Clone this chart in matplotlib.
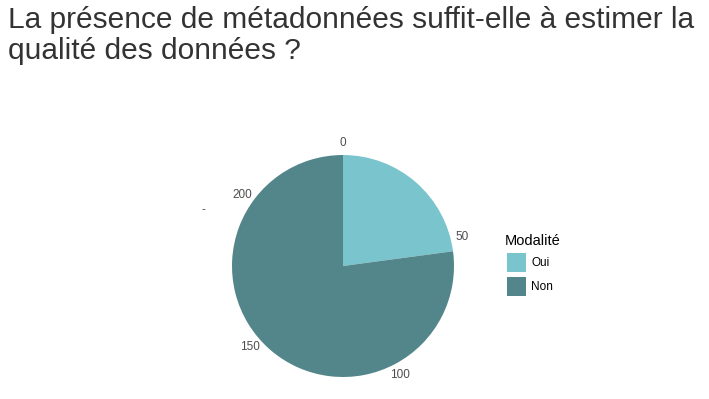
import numpy as np
import matplotlib
matplotlib.use("Agg")
import matplotlib.pyplot as plt
from matplotlib.patches import Rectangle

plt.rcParams['font.family'] = ['Liberation Sans', 'DejaVu Sans']

categories = ["Oui", "Non"]
values = [54, 182]
colors = ["#7AC5CD", "#53868B"]
tick_values = [0, 50, 100, 150, 200]
title_lines = ["La présence de métadonnées suffit-elle à estimer la",
               "qualité des données ?"]

W, H = 709, 399
fig = plt.figure(figsize=(W / 100, H / 100), dpi=100)
ax = fig.add_axes([0, 0, 1, 1])

cx, cy, r = 343, H - 266, 111
ax.pie(values, colors=colors, startangle=90, counterclock=False,
       center=(cx, cy), radius=r, frame=True,
       wedgeprops=dict(linewidth=0))
ax.set_xlim(0, W)
ax.set_ylim(0, H)
ax.set_aspect("auto")
ax.axis("off")

total = sum(values)
rl = 123
for t in tick_values:
    ang = np.deg2rad(90 - t / total * 360)
    ax.text(cx + rl * np.cos(ang), cy + rl * np.sin(ang), str(t),
            ha="center", va="center", fontsize=8.5, color="#4d4d4d")

ax.text(203, H - 210, "-", ha="center", va="center", fontsize=8.5, color="#4d4d4d")

# title, baselines at y=28 and y=59 px from top
for i, line in enumerate(title_lines):
    ax.text(8, H - (28 + 31 * i), line, ha="left", va="baseline",
            fontsize=21.5, color="#333333")

# legend
ax.text(505, H - 241, "Modalité", ha="left", va="center", fontsize=10.5, color="black")
for i, (c, lab) in enumerate(zip(colors, categories)):
    y0 = H - 253 - i * 24
    ax.add_patch(Rectangle((507, y0 - 19), 19, 19, facecolor=c, edgecolor="none"))
    ax.text(531, y0 - 10.5, lab, ha="left", va="center", fontsize=8.5, color="black")

fig.savefig("out.png", dpi=100, facecolor="white")
